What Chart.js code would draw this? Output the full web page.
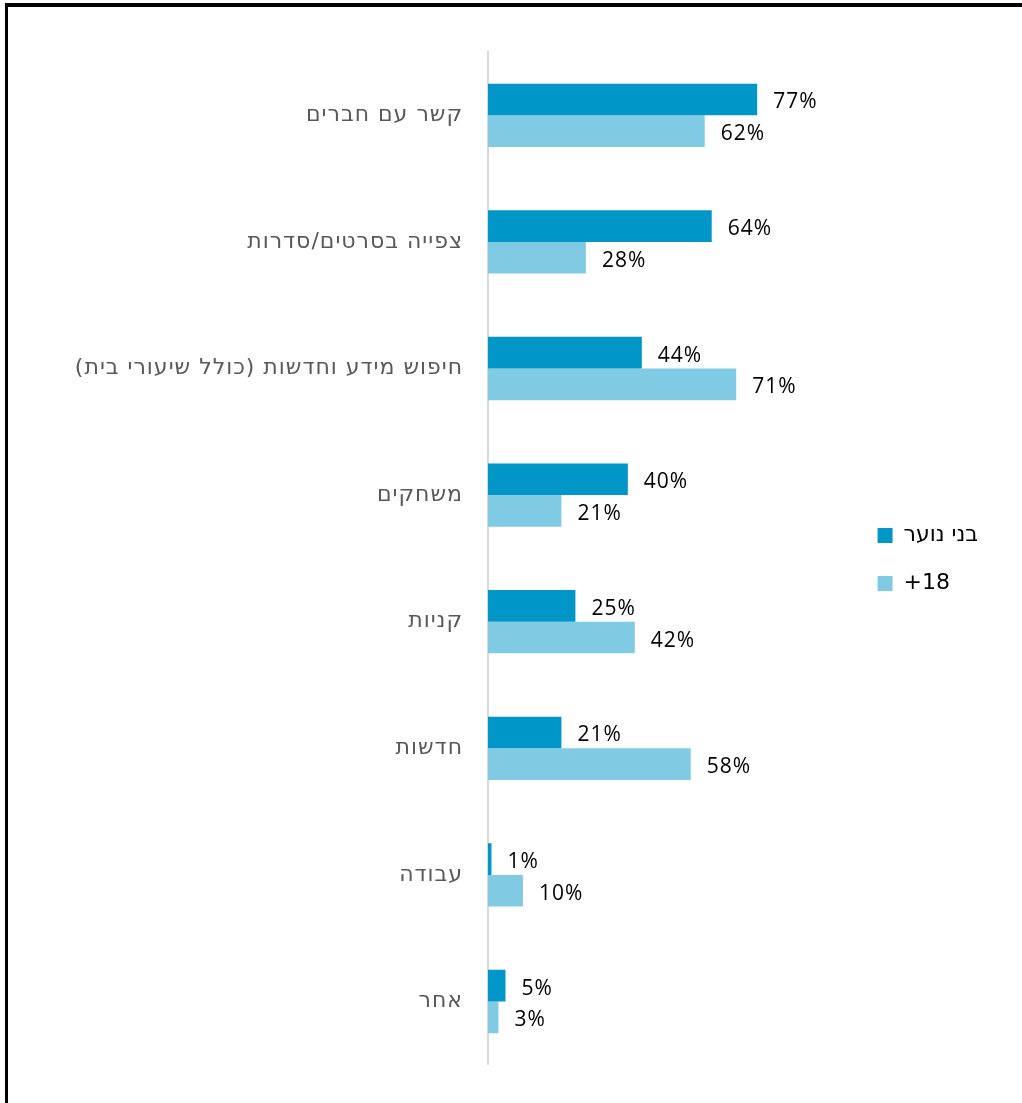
<!DOCTYPE html>
<html lang="he">
<head>
<meta charset="utf-8">
<script src="https://cdn.jsdelivr.net/npm/chart.js@4"></script>
<style>
  html, body { margin: 0; padding: 0; background: #fff; }
  #frame {
    position: absolute; left: 5px; top: 3px; width: 1100px; height: 1200px;
    border-top: 4px solid #000; border-left: 3px solid #000;
  }
  #wrap { position: absolute; left: 0; top: 0; width: 1022px; height: 1103px; }
</style>
</head>
<body>
<div id="frame"></div>
<div id="wrap"><canvas id="grafico"></canvas></div>
<script>
const categorias = [
    "קשר עם חברים",
    "צפייה בסרטים/סדרות",
    "חיפוש מידע וחדשות (כולל שיעורי בית)",
    "משחקים",
    "קניות",
    "חדשות",
    "עבודה",
    "אחר"
];
const nomesSeries = ["בני נוער", "+18"];
const noar = [77, 64, 44, 40, 25, 21, 1, 5];
const maiores18 = [62, 28, 71, 21, 42, 58, 10, 3];

const corEscura = "#0096C8";
const corClara = "#80CBE3";
const fonteHeb = "'DejaVu Sans', sans-serif";

// rotulos de valor no fim de cada barra
const rotulos = {
    id: "rotulos",
    afterDatasetsDraw(chart){
        const ctx = chart.ctx;
        ctx.save();
        ctx.letterSpacing = "1px";
        ctx.font = "21px 'Open Sans', 'Liberation Sans', sans-serif";
        ctx.fillStyle = "#000";
        ctx.textAlign = "left";
        ctx.textBaseline = "middle";
        chart.data.datasets.forEach((ds, i)=>{
            chart.getDatasetMeta(i).data.forEach((barra, j)=>{
                ctx.fillText(ds.data[j] + "%", barra.x + 16, barra.y + 3);
            });
        });
        ctx.restore();
    }
};

new Chart(document.getElementById("grafico"), {
    type: "bar",
    data: {
        labels: categorias,
        datasets: [
            { label: nomesSeries[0], data: noar, backgroundColor: corEscura,
              categoryPercentage: 0.5, barPercentage: 1 },
            { label: nomesSeries[1], data: maiores18, backgroundColor: corClara,
              categoryPercentage: 0.5, barPercentage: 1 }
        ]
    },
    options: {
        indexAxis: "y",
        responsive: true,
        maintainAspectRatio: false,
        animation: false,
        layout: { autoPadding: false, padding: { top: 52, bottom: 36, left: 0, right: 34 } },
        scales: {
            x: { display: false, min: 0, max: 104 },
            y: {
                grid: { display: false, drawTicks: false },
                border: { display: true, color: "#D9D9D9", width: 2 },
                ticks: {
                    padding: 25,
                    color: "#595959",
                    font: { size: 22, family: fonteHeb },
                    callback(v){ return "\u202B" + categorias[v] + "\u202C"; }
                },
                afterFit(scale){
                    scale.width = 488;
                    // so os nomes das categorias ganham espaco entre letras
                    if(!scale._espacado){
                        const desenhar = scale.drawLabels.bind(scale);
                        scale.drawLabels = function(area){
                            this.ctx.save();
                            this.ctx.letterSpacing = "1px";
                            desenhar(area);
                            this.ctx.restore();
                        };
                        scale._espacado = true;
                    }
                }
            }
        },
        plugins: {
            legend: {
                position: "right",
                labels: {
                    boxWidth: 15, boxHeight: 15, padding: 26, color: "#000",
                    font: { size: 22, family: fonteHeb }
                }
            },
            tooltip: { enabled: false }
        }
    },
    plugins: [rotulos]
});
</script>
</body>
</html>
